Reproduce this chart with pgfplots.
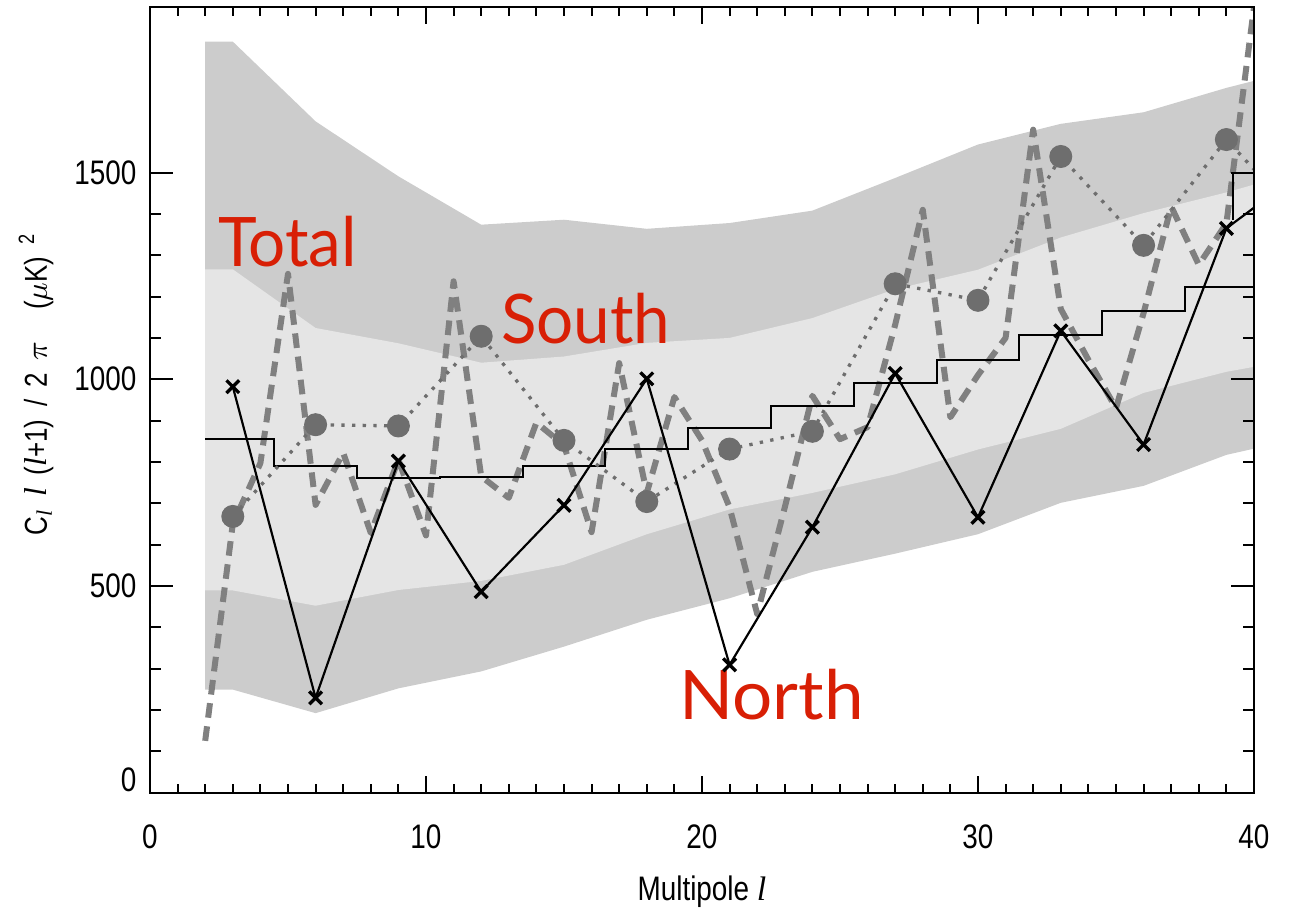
\documentclass[border=0pt]{standalone}
\usepackage{fontspec}
\setmainfont{Liberation Sans}
\newfontfamily\ticfont{Liberation Sans}[FakeStretch=0.82]
\newfontfamily\labfont{Lato}[FakeStretch=0.96]
\newfontfamily\labfontN{Lato}[FakeStretch=1.04]
\newfontfamily\lserif{Liberation Serif}
\usepackage{pgfplots}
\pgfplotsset{compat=1.18}
\usepackage{pgfplotstable}
\usepgfplotslibrary{fillbetween}

\definecolor{bandouter}{HTML}{CCCCCC}
\definecolor{bandinner}{HTML}{E5E5E5}
\definecolor{dashgray}{HTML}{808080}
\definecolor{southgray}{HTML}{6E6E6E}
\definecolor{labred}{HTML}{D81F05}

\pgfplotstableread{
l ol il iu ou
2 249 489 1266 1817
3 249 489 1266 1817
6 192 452 1124 1624
9 252 490 1087 1491
12 293 512 1040 1374
15 353 551 1055 1386
18 418 625 1088 1364
21 470 685 1100 1378
24 534 725 1148 1408
27 578 770 1218 1487
30 625 830 1265 1568
33 701 880 1343 1618
36 742 967 1402 1646
39 817 1018 1452 1705
40 832 1030 1471 1722
}\bands

\pgfplotstableread{
l v
2 125
3 650
4 797
5 1255
6 696
7 822
8 628
9 805
10 622
11 1237
12 765
13 713
14 895
15 840
16 630
17 1039
18 725
19 957
20 852
21 690
22 432
23 690
24 960
25 855
26 884
27 1132
28 1410
29 908
30 1010
31 1100
32 1604
33 1170
34 1047
35 930
36 1160
37 1418
38 1277
39 1377
40 1900
}\total

\pgfplotstableread{
l v
3 982
6 229
9 802
12 486
15 695
18 1001
21 309
24 642
27 1014
30 666
33 1117
36 842
39 1365
40 1415
}\north

\pgfplotstableread{
l v
3 668
6 890
9 887
12 1104
15 852
18 704
21 831
24 874
27 1231
30 1191
33 1539
36 1324
39 1580
40 1508
}\south

\pgfplotstableread{
l v
2 855
4.5 790
7.5 762
10.5 764
13.5 790
16.5 831
19.5 881
22.5 935
25.5 992
28.5 1047
31.5 1106
34.5 1166
37.5 1224
40 1224
}\stair

\begin{document}
\begin{tikzpicture}
\begin{axis}[
  at={(0,0)}, anchor=south west,
  scale only axis, width=331.2pt, height=235.56pt,
  xmin=0, xmax=40, ymin=0, ymax=1900,
  xtick={0,10,20,30,40}, xticklabels={0,10,20,30,40},
  ytick={0,500,1000,1500}, yticklabels={\raisebox{7.5pt}{0},500,1000,1500},
  major tick length=0pt, minor tick length=0pt,
  axis on top,
  axis line style={black, line width=0.6pt},
  xticklabel style={font=\ticfont\fontsize{10.2}{12}\selectfont, anchor=north, inner sep=0pt, yshift=-9.45pt},
  yticklabel style={font=\ticfont\fontsize{10.2}{12}\selectfont, anchor=east, inner sep=0pt, xshift=-3.9pt},
  xlabel={Multipole {\lserif\itshape l}},
  ylabel={C\textsubscript{\lserif\itshape l}\, {\lserif\itshape l}\, ({\lserif\itshape l}+1)\, /\, 2\, $\pi$\quad ($\mu$K)\, \textsuperscript{2}},
  xlabel style={font=\ticfont\fontsize{10.2}{12}\selectfont, at={(axis description cs:0.5,-0.1267)}, anchor=center, inner sep=0pt},
  ylabel style={font=\ticfont\fontsize{9.5}{12}\selectfont, at={(axis description cs:-0.1033,0.5203)}, anchor=center, inner sep=0pt},
  clip=true,
]
\addplot[draw=none, mark=none, name path=ou] table[x=l, y=ou]{\bands};
\addplot[draw=none, mark=none, name path=ol] table[x=l, y=ol]{\bands};
\addplot[fill=bandouter, draw=none] fill between[of=ou and ol];
\addplot[draw=none, mark=none, name path=iu] table[x=l, y=iu]{\bands};
\addplot[draw=none, mark=none, name path=il] table[x=l, y=il]{\bands};
\addplot[fill=bandinner, draw=none] fill between[of=iu and il];

\addplot[dashgray, line width=1.8pt, line join=round, dash pattern=on 4.4pt off 2.6pt, mark=none] table[x=l, y=v]{\total};
\addplot[black, line width=0.6pt, const plot, mark=none] table[x=l, y=v]{\stair};
\addplot[black, line width=0.6pt, mark=none] coordinates {(39.25,1385) (39.25,1500) (40,1500)};
\addplot[southgray, line width=1pt, dash pattern=on 1pt off 2.2pt, mark=*, mark size=3.3pt,
  mark indices={1,...,13}, mark options={solid, fill=southgray, draw=southgray, line width=0.3pt}] table[x=l, y=v]{\south};
\addplot[black, line width=0.65pt, line join=round, mark=x, mark size=2.7pt, mark indices={1,...,13},
  mark options={line width=1pt}] table[x=l, y=v]{\north};

\node[labred, font=\labfont\fontsize{20.5}{22}\selectfont, anchor=base west, inner sep=0pt] at (axis cs:2.44,1273) {Total};
\node[labred, font=\labfont\fontsize{20.5}{22}\selectfont, anchor=base west, inner sep=0pt] at (axis cs:12.70,1087) {South};
\node[labred, font=\labfontN\fontsize{20.5}{22}\selectfont, anchor=base west, inner sep=0pt] at (axis cs:19.15,175.5) {North};
\end{axis}

% x ticks
\begin{axis}[
  at={(0,0)}, anchor=south west,
  scale only axis, width=331.2pt, height=235.56pt,
  xmin=0, xmax=40, ymin=0, ymax=1900,
  xtick={0,10,20,30,40}, minor x tick num=9, xticklabels={},
  ytick=\empty,
  xtick pos=both, tick align=inside,
  major tick length=4.9pt, minor tick length=2.5pt,
  tick style={black, line width=0.6pt},
  axis line style={draw=none},
]
\end{axis}

% y ticks
\begin{axis}[
  at={(0,0)}, anchor=south west,
  scale only axis, width=331.2pt, height=235.56pt,
  xmin=0, xmax=40, ymin=0, ymax=1900,
  ytick={0,500,1000,1500}, minor y tick num=4, yticklabels={},
  xtick=\empty,
  ytick pos=both, tick align=inside,
  major tick length=6.8pt, minor tick length=3.4pt,
  tick style={black, line width=0.6pt},
  axis line style={draw=none},
]
\end{axis}

\pgfresetboundingbox
\path[use as bounding box] (-45pt,-36.15pt) rectangle (341.7pt,237.75pt);
\end{tikzpicture}
\end{document}
